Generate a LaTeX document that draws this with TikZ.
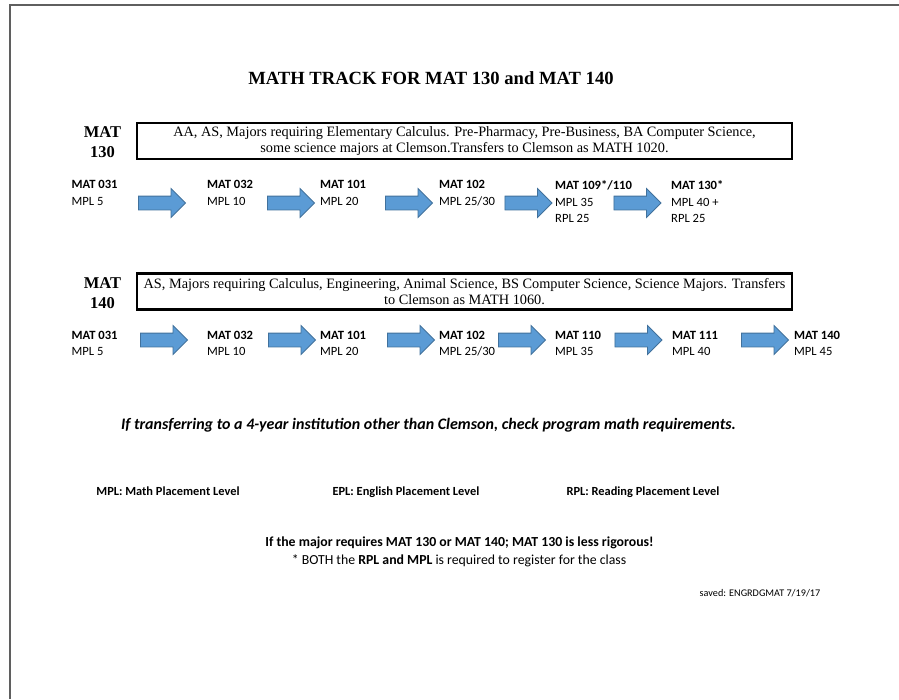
\documentclass[tikz,border=0pt]{standalone}
\usepackage{fontspec}
\setmainfont{Liberation Serif}
\newfontfamily\calibri{Carlito}
\usetikzlibrary{shapes.arrows}
\definecolor{arrowfill}{RGB}{91,155,213}
\definecolor{arrowline}{RGB}{65,113,156}
\definecolor{pageline}{RGB}{95,95,95}

\begin{document}
\begin{tikzpicture}[x=1pt,y=-1pt]
  \tikzstyle{every node}=[inner sep=0pt]
  \tikzstyle{course}=[anchor=north west,align=left,font=\calibri\fontsize{12.6}{16.5}\selectfont]
  \tikzstyle{track}=[draw,line width=2.2pt,minimum width=655pt,minimum height=36pt,align=center,font=\fontsize{14.3}{16}\selectfont]
  \tikzstyle{tracklabel}=[align=center,font=\bfseries\fontsize{16.5}{20}\selectfont]
  \tikzstyle{bigarrow}=[single arrow,fill=arrowfill,draw=arrowline,line width=0.8pt,minimum height=47pt,single arrow head extend=7.5pt,inner xsep=0pt,inner ysep=6.5pt,text height=0pt,text depth=0pt]
  \tikzstyle{note}=[anchor=base,font=\calibri\bfseries\fontsize{12.4}{14}\selectfont]
  \useasboundingbox (0,0) rectangle (899,699);
  \draw[pageline,line width=2pt] (10,699) -- (10,4.5) -- (899,4.5);

  \node (title) at (431,84) [anchor=base,font=\bfseries\fontsize{18.6}{22}\selectfont] {MATH TRACK FOR MAT 130 and MAT 140};

  % MAT 130 track
  \node (lab130) at (102.5,141.8) [tracklabel] {MAT\\130};
  \node (box130) at (464.5,141) [track] {AA, AS, Majors requiring Elementary Calculus. Pre-Pharmacy, Pre-Business, BA Computer Science,\\some science majors at Clemson.Transfers to Clemson as MATH 1020.};
  \node (a1) at (71.5,180.5) [course] {\textbf{MAT 031}\\MPL 5};
  \node (a2) at (207,180.5) [course] {\textbf{MAT 032}\\MPL 10};
  \node (a3) at (320,180.5) [course] {\textbf{MAT 101}\\MPL 20};
  \node (a4) at (439,180.5) [course] {\textbf{MAT 102}\\MPL 25/30};
  \node (a5) at (555,180.5) [course] {\textbf{MAT 109*/110}\\MPL 35\\RPL 25};
  \node (a6) at (671,180.5) [course] {\textbf{MAT 130*}\\MPL 40 +\\RPL 25};
  \foreach \x [count=\i] in {158.5,287.5,405.5,525,634}
    \node (ra\i) at (\x,203) [bigarrow] {};

  % MAT 140 track
  \node (lab140) at (102.5,293) [tracklabel] {MAT\\140};
  \node (box140) at (464.5,291.5) [track] {AS, Majors requiring Calculus, Engineering, Animal Science, BS Computer Science, Science Majors. Transfers\\to Clemson as MATH 1060.};
  \node (b1) at (71.5,331) [course] {\textbf{MAT 031}\\MPL 5};
  \node (b2) at (207,331) [course] {\textbf{MAT 032}\\MPL 10};
  \node (b3) at (320,331) [course] {\textbf{MAT 101}\\MPL 20};
  \node (b4) at (439,331) [course] {\textbf{MAT 102}\\MPL 25/30};
  \node (b5) at (555,331) [course] {\textbf{MAT 110}\\MPL 35};
  \node (b6) at (672,331) [course] {\textbf{MAT 111}\\MPL 40};
  \node (b7) at (794,331) [course] {\textbf{MAT 140}\\MPL 45};
  \foreach \x [count=\i] in {160.5,288.5,407.5,518.5,635,761.5}
    \node (rb\i) at (\x,340) [bigarrow] {};

  % notes
  \node (warn) at (428.5,429) [anchor=base,font=\calibri\bfseries\itshape\fontsize{16}{18}\selectfont] {If transferring to a 4-year institution other than Clemson, check program math requirements.};
  \node (mpl) at (168,495) [note] {MPL: Math Placement Level};
  \node (epl) at (406,495) [note] {EPL: English Placement Level};
  \node (rpl) at (643,495) [note] {RPL: Reading Placement Level};
  \node (rigor) at (459.5,546) [anchor=base,font=\calibri\bfseries\fontsize{13.8}{15}\selectfont] {If the major requires MAT 130 or MAT 140; MAT 130 is less rigorous!};
  \node (both) at (459,564) [anchor=base,font=\calibri\fontsize{13.8}{15}\selectfont] {* BOTH the \textbf{RPL and MPL} is required to register for the class};
  \node (saved) at (760,596) [anchor=base,font=\calibri\fontsize{10.2}{12}\selectfont] {saved: ENGRDGMAT 7/19/17};
\end{tikzpicture}
\end{document}
